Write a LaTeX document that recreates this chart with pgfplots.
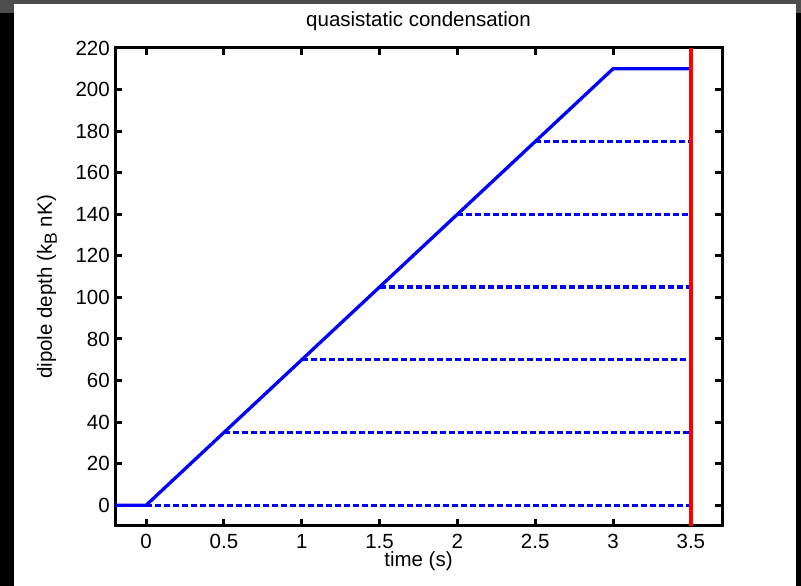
\documentclass[border=0pt]{standalone}
\usepackage{pgfplots}
\pgfplotsset{compat=1.18}
\usepackage{fontspec}
\setmainfont{Liberation Sans}
\definecolor{frameGray}{RGB}{77,77,77}
\definecolor{mblue}{RGB}{0,0,255}
\definecolor{mred}{RGB}{255,0,0}
\begin{document}
\fontsize{20.5}{24}\selectfont
\begin{tikzpicture}
\useasboundingbox (0pt,0pt) rectangle (801pt,586pt);
\fill[frameGray] (0pt,0pt) rectangle (801pt,586pt);
\fill[black] (0pt,0pt) rectangle (14pt,573pt);
\fill[black] (796pt,0pt) rectangle (801pt,573pt);
\fill[white] (14pt,0pt) rectangle (796pt,582pt);
\begin{axis}[
  at={(115pt,60pt)}, anchor=south west,
  scale only axis, width=607pt, height=478pt,
  xmin=-0.2, xmax=3.7, ymin=-10, ymax=220,
  xtick={0,0.5,1,1.5,2,2.5,3,3.5},
  ytick={0,20,40,60,80,100,120,140,160,180,200,220},
  tick align=inside, major tick length=7pt,
  axis line style={line width=3pt},
  every tick/.style={black, line width=3pt},
  /pgf/number format/assume math mode=true,
  tick label style={font=\fontsize{20.5}{24}\selectfont},
  xticklabel style={anchor=base, inner sep=0pt, yshift=-22.5pt},
  yticklabel style={anchor=east, inner sep=0pt, xshift=-5pt},
  title={quasistatic condensation},
  title style={at={(axis description cs:0.5,1.0324)}, anchor=base, inner sep=0pt, font=\fontsize{20.5}{24}\selectfont},
  xlabel={time (s)},
  xlabel style={at={(axis description cs:0.5,-0.0851)}, anchor=base, inner sep=0pt, font=\fontsize{20.5}{24}\selectfont},
  ylabel={dipole depth (k\raisebox{-5pt}{\fontsize{17.5}{17.5}\selectfont B} nK)},
  ylabel style={at={(axis description cs:-0.1038,0.5)}, anchor=base, inner sep=0pt, font=\fontsize{20.5}{24}\selectfont},
]
\addplot[mblue, line width=3.3pt, dash pattern=on 6pt off 3pt] coordinates {(0,0) (3.5,0)};
\addplot[mblue, line width=3.3pt, dash pattern=on 6pt off 3pt] coordinates {(0.5,35) (3.5,35)};
\addplot[mblue, line width=3.3pt, dash pattern=on 6pt off 3pt] coordinates {(1,70) (3.5,70)};
\addplot[mblue, line width=3.3pt, dash pattern=on 6pt off 3pt] coordinates {(1.5,105) (3.5,105)};
\addplot[mblue, line width=3.3pt, dash pattern=on 6pt off 3pt] coordinates {(2,140) (3.5,140)};
\addplot[mblue, line width=3.3pt, dash pattern=on 6pt off 3pt] coordinates {(2.5,175) (3.5,175)};
\addplot[mblue, line width=3.3pt] coordinates {(-0.2,0) (0,0) (3,210) (3.5,210)};
\addplot[mred, line width=3.3pt] coordinates {(3.5,-10) (3.5,220)};
\end{axis}
\end{tikzpicture}
\end{document}
